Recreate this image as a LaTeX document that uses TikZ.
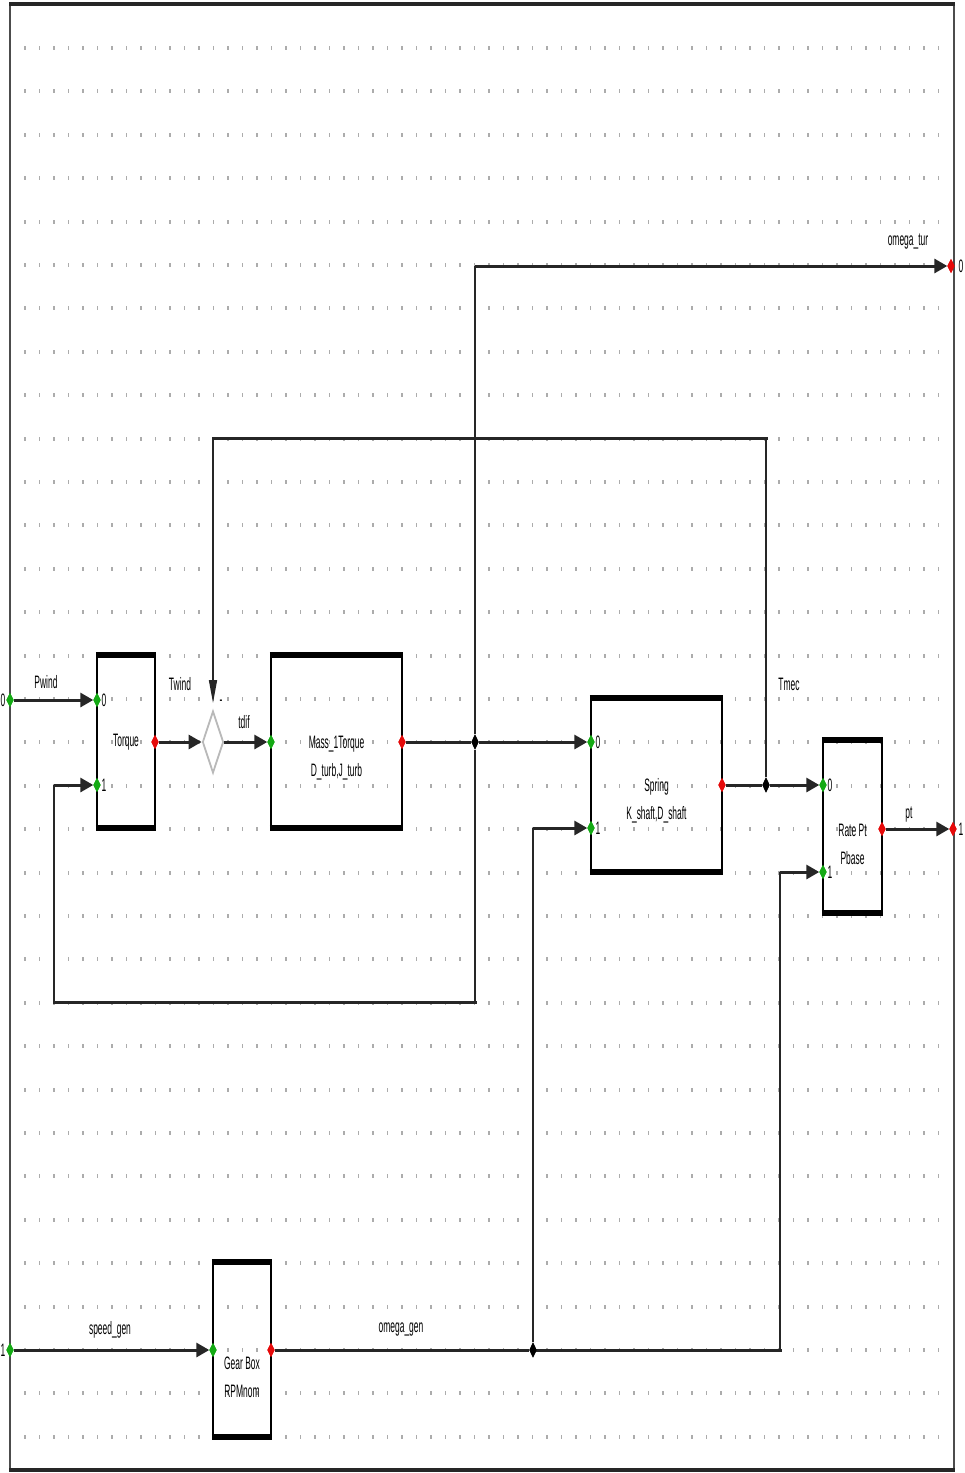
\documentclass[tikz,border=0pt]{standalone}
\usepackage{fontspec}
\setmainfont{Liberation Sans}
\usepackage{graphicx}
\usetikzlibrary{arrows.meta,shapes.geometric}
\newcommand{\nq}[1]{\scalebox{0.47}[1]{#1}}
\definecolor{portgreen}{RGB}{20,170,20}
\definecolor{portred}{RGB}{230,10,10}
\begin{document}
\begin{tikzpicture}[x=1pt,y=-1pt,
  txt/.style={font=\fontsize{18}{28}\selectfont, inner sep=0pt, align=center},
  hw/.style={line width=3pt, draw=black!85},
  vw/.style={line width=1.6pt, draw=black!85},
  arr/.style={-{Triangle[length=13pt,width=14pt]}},
  darr/.style={-{Triangle[length=23pt,width=8pt]}},
  blockbox/.style={draw=none, inner sep=0pt, minimum width=#1},
  inport/.style={diamond, fill=portgreen, inner sep=0pt, minimum width=7pt, minimum height=14pt},
  outport/.style={diamond, fill=portred, inner sep=0pt, minimum width=7pt, minimum height=14pt},
  junct/.style={diamond, fill=black, inner sep=0pt, minimum width=7pt, minimum height=15pt},
  sumjunct/.style={diamond, draw=gray!55, fill=white, line width=1.8pt, inner sep=0pt, minimum width=21pt, minimum height=62pt}]
\useasboundingbox (0,0) rectangle (965,1473);
\fill[white] (0,0) rectangle (965,1473);
% grid of dots
\foreach \i in {0,...,63}{
  \foreach \j in {0,...,32}{
    \fill[gray!65] ({25+14.5*\i-0.6},{48+43.4*\j-2}) rectangle ++(1.2,4);
  }
}
% frame
\draw[line width=1.8pt, black!70] (10,4) -- (10,1470) (954,4) -- (954,1470);
\draw[line width=3.5pt, black!85] (9.1,4) -- (954.9,4) (9.1,1470) -- (954.9,1470);

% blocks
\node[blockbox=58pt, minimum height=173pt] (tq) at (126,741.5) {};
\node[blockbox=131pt, minimum height=173pt] (ms) at (336.5,741.5) {};
\node[blockbox=131pt, minimum height=174pt] (sp) at (656.5,785) {};
\node[blockbox=59pt, minimum height=173pt] (rp) at (852.5,826.5) {};
\node[blockbox=58pt, minimum height=175pt] (gb) at (242,1349.5) {};
\foreach \n in {tq,ms,sp,rp,gb}{
  \draw[line width=1.8pt] (\n.north west) -- (\n.south west) (\n.north east) -- (\n.south east);
  \draw[line width=5.5pt] ([xshift=-0.9pt]\n.north west) -- ([xshift=0.9pt]\n.north east)
                        ([xshift=-0.9pt]\n.south west) -- ([xshift=0.9pt]\n.south east);
}
% block texts
\node[txt] (tqtxt) at (126,742) {\nq{Torque}};
\node[txt] (mstxt) at (336.5,758) {\nq{Mass\_1Torque}\\\nq{D\_turb,J\_turb}};
\node[txt] (sptxt) at (656.5,801) {\nq{Spring}\\\nq{K\_shaft,D\_shaft}};
\node[txt] (rptxt) at (852.5,844) {\nq{Rate Pt}\\\nq{Pbase}};
\node[txt] (gbtxt) at (242,1377) {\nq{Gear Box}\\\nq{RPMnom}};

% sum junction
\node[sumjunct] (sum) at (213,742) {};
\coordinate (sumtop) at (213,703);

% ports
\node[inport] (pin0) at (10,700) {};
\node[inport] (pin1) at (10,1350) {};
\node[outport] (pout0) at (951,266) {};
\node[outport] (pout1) at (953,829) {};
\node[inport] (tqin0) at (97,700) {};
\node[inport] (tqin1) at (97,785) {};
\node[outport] (tqout) at (155,742) {};
\node[inport] (msin) at (271,742) {};
\node[outport] (msout) at (402,742) {};
\node[inport] (spin0) at (591,742) {};
\node[inport] (spin1) at (591,828) {};
\node[outport] (spout) at (722,785) {};
\node[inport] (rpin0) at (823,785) {};
\node[inport] (rpin1) at (823,872) {};
\node[outport] (rpout) at (882,829) {};
\node[inport] (gbin) at (213,1350) {};
\node[outport] (gbout) at (271,1350) {};

% junctions
\node[junct] (j1) at (475,742) {};
\node[junct] (j2) at (766,785) {};
\node[junct] (j3) at (533,1350) {};

% corner coordinates
\coordinate (c1) at (475,1002);
\coordinate (c2) at (54,1002);
\coordinate (c3) at (54,785);
\coordinate (c4) at (475,266);
\coordinate (c5) at (766,438);
\coordinate (c6) at (213,438);
\coordinate (c7) at (780,1350);
\coordinate (c8) at (780,872);
\coordinate (c9) at (533,828);

% connectors
\draw[hw,arr] (pin0) -- (tqin0);
\draw[hw,arr] (tqout) -- (sum);
\draw[hw,arr] (sum) -- (msin);
\draw[hw] (msout) -- (j1);
\draw[hw,arr] (j1) -- (spin0);
\draw[vw] (j1) -- (c1);
\draw[hw,line cap=rect] (c1) -- (c2);
\draw[vw] (c2) -- (c3);
\draw[hw,arr] (c3) -- (tqin1);
\draw[vw] (j1) -- (c4);
\draw[hw,arr] (c4) -- (pout0);
\draw[hw] (spout) -- (j2);
\draw[hw,arr] (j2) -- (rpin0);
\draw[vw] (j2) -- (c5);
\draw[hw,line cap=rect] (c5) -- (c6);
\draw[vw,darr] (c6) -- (sumtop);
\draw[hw,arr] (rpout) -- (pout1);
\draw[hw,arr] (pin1) -- (gbin);
\draw[hw] (gbout) -- (j3);
\draw[hw,line cap=rect] (j3) -- (c7);
\draw[vw] (c7) -- (c8);
\draw[hw,arr] (c8) -- (rpin1);
\draw[vw] (j3) -- (c9);
\draw[hw,arr] (c9) -- (spin1);

% redraw markers on top
\foreach \n in {j1,j2,j3}{\fill[black] (\n.north) -- (\n.east) -- (\n.south) -- (\n.west) -- cycle;}
\foreach \n in {pin0,pin1,tqin0,tqin1,msin,spin0,spin1,rpin0,rpin1,gbin}{\fill[portgreen] (\n.north) -- (\n.east) -- (\n.south) -- (\n.west) -- cycle;}
\foreach \n in {pout0,pout1,tqout,msout,spout,rpout,gbout}{\fill[portred] (\n.north) -- (\n.east) -- (\n.south) -- (\n.west) -- cycle;}

% port numbers
\node[txt] (l1) at (3,700) {\nq{0}};
\node[txt] (l2) at (3,1350) {\nq{1}};
\node[txt] (l3) at (961,266) {\nq{0}};
\node[txt] (l4) at (961,829) {\nq{1}};
\node[txt] (l5) at (104,700) {\nq{0}};
\node[txt] (l6) at (104,785) {\nq{1}};
\node[txt] (l7) at (598,742) {\nq{0}};
\node[txt] (l8) at (598,828) {\nq{1}};
\node[txt] (l9) at (830,785) {\nq{0}};
\node[txt] (l10) at (830,872) {\nq{1}};
\node[txt] (minus) at (221,703) {\nq{-}};

% wire labels
\node[txt] (w1) at (46,682) {\nq{Pwind}};
\node[txt] (w2) at (180,684) {\nq{Twind}};
\node[txt] (w3) at (244,722) {\nq{tdif}};
\node[txt] (w4) at (789,684) {\nq{Tmec}};
\node[txt] (w5) at (909,815) {\nq{pt}};
\node[txt] (w6) at (908,242) {\nq{omega\_tur}};
\node[txt] (w7) at (110,1330) {\nq{speed\_gen}};
\node[txt] (w8) at (401,1330) {\nq{omega\_gen}};
\end{tikzpicture}
\end{document}
